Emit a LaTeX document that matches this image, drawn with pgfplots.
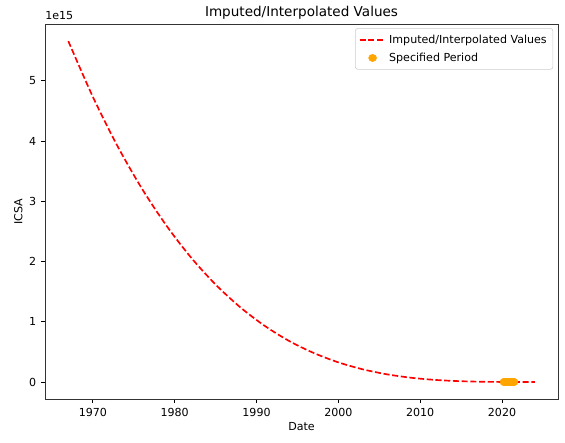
\documentclass[border=0pt]{standalone}
\usepackage{pgfplots}
\pgfplotsset{compat=1.18}
\usepackage{fontspec}
\setmainfont{DejaVu Sans}
\definecolor{mplorange}{HTML}{FFA500}
\begin{document}
\begin{tikzpicture}
\begin{axis}[
  scale only axis,
  width=370.7pt, height=271pt,
  xmin=1964.15, xmax=2026.85,
  ymin=-0.283, ymax=5.945,
  xtick={1970,1980,1990,2000,2010,2020},
  ytick={0,1,2,3,4,5},
  xticklabel style={/pgf/number format/1000 sep={}},
  /pgf/number format/assume math mode=true,
  tick align=outside,
  tick pos=left,
  major tick length=2.8pt,
  tick style={line width=0.6pt, black},
  axis line style={line width=0.6pt, black!80},
  ticklabel style={font=\fontsize{8}{9}\selectfont},
  title={Imputed/Interpolated Values},
  title style={font=\fontsize{9.8}{11}\selectfont, yshift=-6.5pt},
  xlabel={Date}, ylabel={ICSA},
  xlabel style={yshift=2pt},
  ylabel style={yshift=-2pt},
  label style={font=\fontsize{8}{9}\selectfont},
  legend style={at={(rel axis cs:1,1)}, anchor=north east, xshift=-3.5pt, yshift=-3pt,
    draw=black!20, rounded corners=2pt, font=\fontsize{8}{9}\selectfont,
    cells={anchor=west}, row sep=1.5pt, inner sep=2.5pt},
  legend image post style={xscale=1.1},
  legend cell align=left,
  clip=false,
]
\addplot[only marks, mark=*, mark size=2.6pt, mplorange, mark options={draw=mplorange, fill=mplorange}, forget plot] coordinates {
(2020.2,0) (2020.3,0) (2020.4,0) (2020.5,0) (2020.6,0) (2020.7,0) (2020.8,0) (2020.9,0) (2021.0,0) (2021.1,0) (2021.2,0) (2021.3,0) (2021.4,0) (2021.5,0)
};
\addplot[red, line width=1.2pt, dash pattern=on 4.4pt off 1.9pt, smooth] coordinates {
(1967,5.66) (1970,4.735) (1973,3.920) (1976,3.210) (1979,2.595) (1982,2.066) (1985,1.618) (1988,1.242) (1991,0.932) (1994,0.680) (1997,0.481) (2000,0.326) (2003,0.210) (2006,0.126) (2009,0.069) (2012,0.033) (2015,0.0128) (2018,0.0034) (2021,0.0003) (2024,0)
};
\addlegendentry{Imputed/Interpolated Values}
\addlegendimage{only marks, mark=*, mark size=2.6pt, mplorange}
\addlegendentry{Specified Period}
\node[anchor=south west, font=\fontsize{8}{9}\selectfont, inner sep=0pt, yshift=3pt] at (rel axis cs:0,1) {1e15};
\path (rel axis cs:0,0) ++(-32.5pt,-31.1pt) coordinate (bl);
\path (rel axis cs:1,1) ++(5pt,17.3pt) coordinate (tr);
\useasboundingbox (bl) rectangle (tr);
\end{axis}
\end{tikzpicture}
\end{document}
